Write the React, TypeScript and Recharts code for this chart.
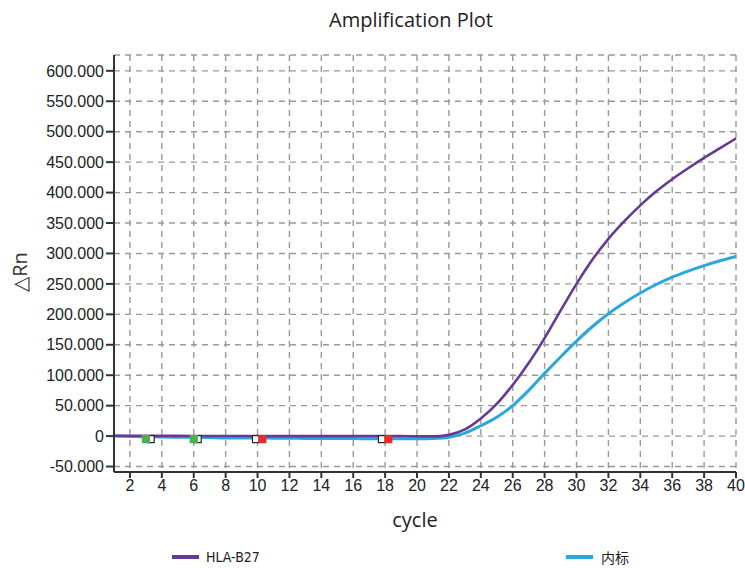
import React from "react"
import {
  ComposedChart,
  Line,
  Scatter,
  XAxis,
  YAxis,
  CartesianGrid,
} from "recharts"

const cycles = [
  1, 2, 3, 4, 5, 6, 7, 8, 9, 10, 11, 12, 13, 14, 15, 16, 17, 18, 19, 20,
  21, 22, 23, 24, 25, 26, 27, 28, 29, 30, 31, 32, 33, 34, 35, 36, 37, 38, 39, 40,
]

const hlaB27 = [
  0.5, 0.5, 0.4, 0.3, 0.3, 0.2, 0.2, 0.1, 0.1, 0, 0, 0, 0, 0, 0, 0, 0, 0, 0, -0.5,
  -0.5, 2, 11, 29, 53, 84, 120, 161, 206, 250, 290, 324, 353, 379, 402, 422, 440, 457, 473, 489,
]

const internalCtrl = [
  0, -0.5, -1, -1.5, -2, -2, -2.5, -3, -3, -3, -3.5, -3.5, -4, -4, -4, -4, -4.5, -4.5, -4.5, -4.5,
  -4, -2, 5, 17, 31, 50, 75, 103, 130, 156, 180, 201, 219, 235, 249, 261, 271, 280, 288, 295,
]

const xTicks = [2, 4, 6, 8, 10, 12, 14, 16, 18, 20, 22, 24, 26, 28, 30, 32, 34, 36, 38, 40]
const yTicks = [-50, 0, 50, 100, 150, 200, 250, 300, 350, 400, 450, 500, 550, 600]

// baseline start/end markers
const greenMarks = [3, 6]
const redMarks = [10.3, 18.2]
const openMarks = [3.3, 6.25, 9.9, 17.8]
const markLevel = -5

const PURPLE = "#653a96"
const CYAN = "#2aa7de"
const AXIS = "#333"

const data = cycles.map((c, i) => ({ cycle: c, hla: hlaB27[i], ic: internalCtrl[i] }))
const toMarks = (xs: number[]) => xs.map((c) => ({ cycle: c, v: markLevel }))

function squareShape(fill: string, stroke: string) {
  return (props: any) => {
    const { cx, cy } = props
    if (cx == null || cy == null) return null
    return <rect x={cx - 3.5} y={cy - 3.5} width={7} height={7} fill={fill} stroke={stroke} strokeWidth={1.2} />
  }
}

function fmtY(v: number) {
  return v === 0 ? "0" : v.toFixed(3)
}

const tickFont = { fill: "#222", fontSize: 16, fontFamily: "'Liberation Sans', Arial, sans-serif" }

const legendRow = {
  position: "absolute" as const, top: 547, height: 20, display: "flex", alignItems: "center",
  fontSize: 14, lineHeight: "20px", color: "#222", whiteSpace: "nowrap" as const,
}

export default function App() {
  return (
    <div style={{ position: "absolute", left: 0, top: 0, width: 745, height: 568, background: "#fff", overflow: "hidden" }}>
      <div style={{
        position: "absolute", left: 411, top: 20, transform: "translate(-50%, -50%)", whiteSpace: "nowrap",
        fontFamily: "'Open Sans', sans-serif", fontSize: 20, lineHeight: "24px", color: "#222",
      }}>
        Amplification Plot
      </div>

      <ComposedChart
        width={745}
        height={568}
        data={data}
        margin={{ top: 55, right: 9, bottom: 0, left: 0 }}
      >
        <CartesianGrid stroke="#999" strokeWidth={1.4} strokeDasharray="6 5" />
        <XAxis
          dataKey="cycle"
          type="number"
          domain={[1, 40]}
          ticks={xTicks}
          interval={0}
          height={96}
          tick={tickFont}
          tickSize={6}
          axisLine={{ stroke: AXIS, strokeWidth: 2 }}
          tickLine={{ stroke: AXIS, strokeWidth: 2 }}
        />
        <XAxis
          xAxisId="top"
          orientation="top"
          type="number"
          domain={[1, 40]}
          height={0}
          tick={false}
          tickLine={false}
          axisLine={{ stroke: AXIS, strokeWidth: 2 }}
        />
        <YAxis
          type="number"
          domain={[-59, 626]}
          ticks={yTicks}
          interval={0}
          width={114}
          tickFormatter={fmtY}
          tick={tickFont}
          tickSize={8}
          axisLine={{ stroke: AXIS, strokeWidth: 2 }}
          tickLine={{ stroke: AXIS, strokeWidth: 2 }}
        />
        <YAxis
          yAxisId="r"
          orientation="right"
          type="number"
          domain={[-59, 626]}
          ticks={yTicks}
          interval={0}
          width={0}
          mirror
          tickSize={4}
          tickFormatter={() => ""}
          axisLine={{ stroke: AXIS, strokeWidth: 2 }}
          tickLine={{ stroke: AXIS, strokeWidth: 2 }}
        />
        <Line
          type="monotone"
          dataKey="ic"
          stroke={CYAN}
          strokeWidth={3}
          dot={false}
          isAnimationActive={false}
        />
        <Line
          type="monotone"
          dataKey="hla"
          stroke={PURPLE}
          strokeWidth={2.6}
          dot={false}
          isAnimationActive={false}
        />
        <Scatter data={toMarks(openMarks)} dataKey="v" shape={squareShape("#fff", "#222")} isAnimationActive={false} />
        <Scatter data={toMarks(greenMarks)} dataKey="v" shape={squareShape("#4cb050", "#4cb050")} isAnimationActive={false} />
        <Scatter data={toMarks(redMarks)} dataKey="v" shape={squareShape("#e62a2f", "#e62a2f")} isAnimationActive={false} />
      </ComposedChart>

      <div style={{
        position: "absolute", left: 20, top: 272, transform: "translate(-50%, -50%) rotate(-90deg)",
        fontFamily: "'Open Sans', sans-serif", fontSize: 20, lineHeight: "24px", color: "#333", whiteSpace: "nowrap",
      }}>
        △Rn
      </div>

      <div style={{
        position: "absolute", left: 415, top: 520, transform: "translate(-50%, -50%)",
        fontFamily: "'Open Sans', sans-serif", fontSize: 20, lineHeight: "24px", color: "#222",
      }}>
        cycle
      </div>

      <div style={{ ...legendRow, left: 172, fontFamily: "'DejaVu Sans Condensed', sans-serif" }}>
        <span style={{ display: "inline-block", width: 27, height: 4, background: PURPLE, marginRight: 7 }} />
        HLA-B27
      </div>
      <div style={{ ...legendRow, left: 566, fontFamily: "'Noto Sans CJK SC', sans-serif" }}>
        <span style={{ display: "inline-block", width: 27, height: 4, background: CYAN, marginRight: 8 }} />
        内标
      </div>
    </div>
  )
}
